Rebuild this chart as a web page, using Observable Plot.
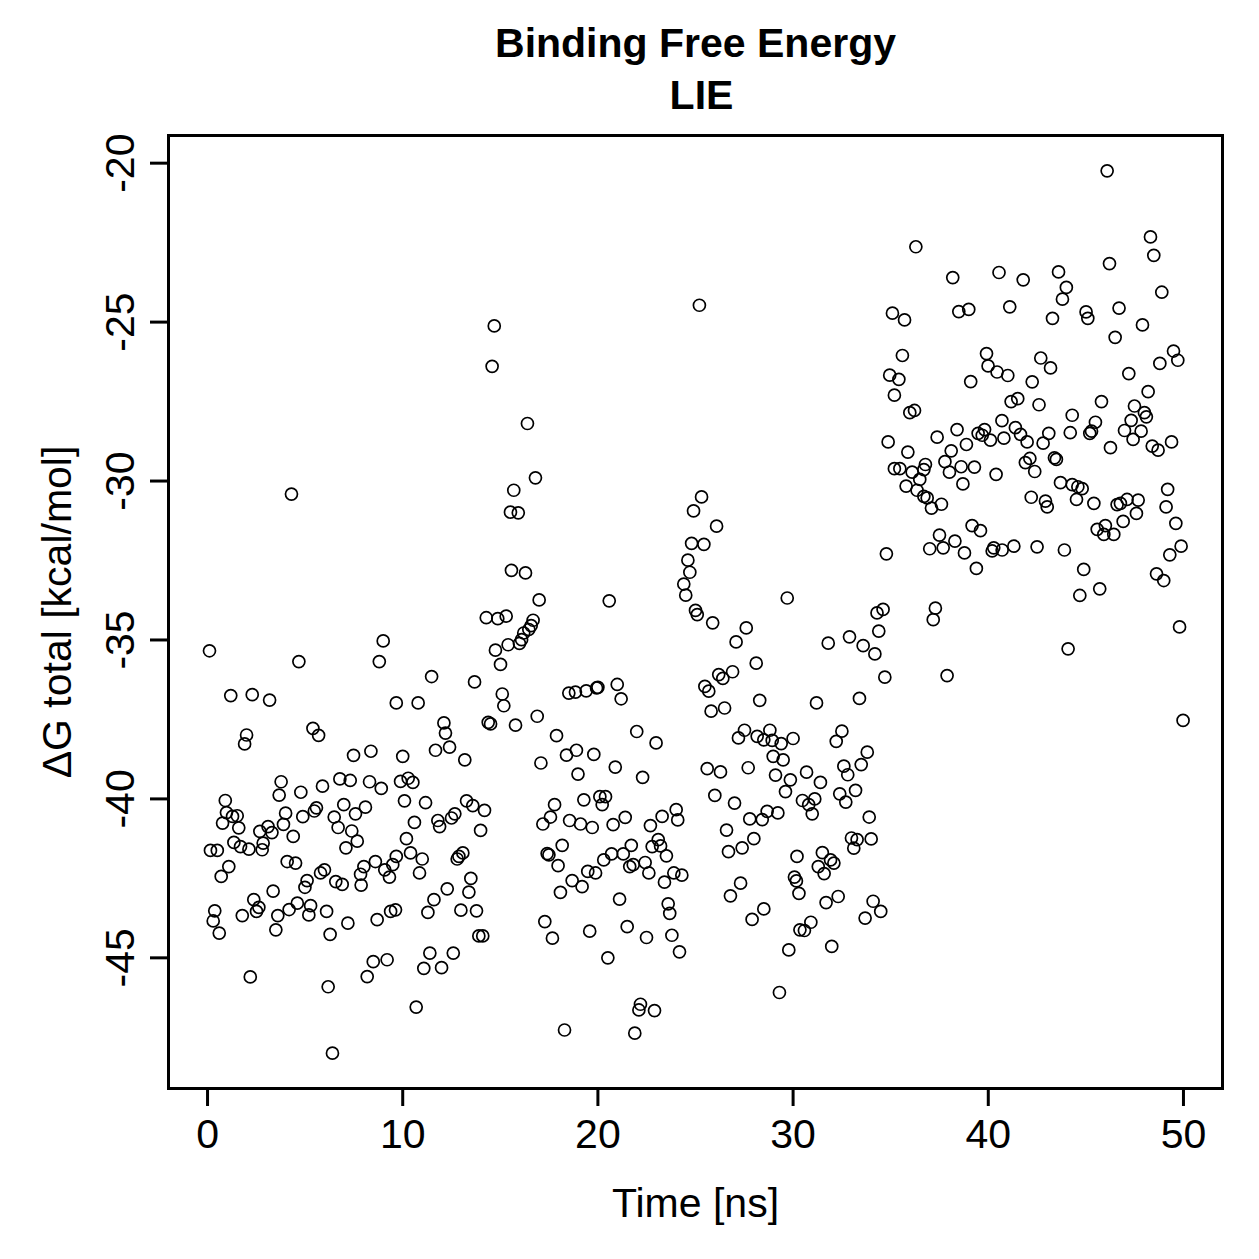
<!DOCTYPE html>
<html>
<head>
<meta charset="utf-8">
<script src="https://cdn.jsdelivr.net/npm/d3@7"></script>
<script src="https://cdn.jsdelivr.net/npm/@observablehq/plot@0.6"></script>
<style>
  html, body { margin: 0; padding: 0; background: #fff; }
  #chart svg { display: block; }
</style>
</head>
<body>
<div id="chart"></div>
<script>
// LIE binding free energy along the trajectory, one value per snapshot.
const timeNs = [
  4.30, 0.10, 4.68, 9.00, 8.80, 1.19, 2.29, 3.18, 9.67, 2.00,
  1.90, 5.40, 5.69, 7.48, 8.37, 10.00, 3.77, 3.67, 4.78, 5.89,
  6.78, 7.31, 8.30, 8.90, 9.89, 0.91, 0.97, 1.28, 1.52, 0.77,
  1.60, 2.68, 3.10, 3.30, 4.00, 3.89, 4.39, 4.88, 5.47, 5.58,
  6.98, 6.49, 6.69, 7.58, 8.09, 7.39, 7.67, 7.09, 10.09, 0.15,
  0.50, 1.35, 1.69, 2.12, 2.85, 2.80, 4.08, 4.51, 8.60, 9.67,
  1.09, 0.70, 3.36, 2.37, 2.63, 2.51, 1.78, 0.37, 0.29, 0.60,
  3.60, 3.50, 4.18, 4.60, 5.28, 5.19, 5.10, 4.99, 5.79, 5.99,
  6.57, 6.90, 6.10, 6.28, 7.19, 7.84, 8.01, 7.87, 9.08, 9.32,
  9.49, 8.69, 9.38, 9.63, 8.49, 9.20, 8.18, 2.19, 6.18, 6.40,
  14.69, 14.58, 16.39, 16.80, 15.69, 15.52, 15.92, 15.57, 16.29, 16.99,
  14.28, 14.87, 15.30, 16.68, 16.58, 16.46, 16.20, 16.09, 15.98, 15.40,
  14.75, 15.01, 11.48, 13.68, 15.10, 18.51, 18.85, 19.40, 19.93, 10.79,
  15.18, 16.89, 12.11, 12.19, 14.38, 14.50, 15.78, 17.88, 11.68, 12.40,
  13.18, 18.39, 18.90, 19.79, 17.08, 18.98, 10.28, 10.52, 11.17, 13.27,
  13.59, 14.19, 12.67, 12.50, 11.80, 11.89, 10.60, 13.99, 17.78, 17.57,
  17.18, 18.55, 19.11, 19.71, 19.28, 10.19, 10.40, 11.00, 10.86, 13.08,
  12.88, 12.79, 18.17, 17.40, 17.49, 17.96, 19.48, 19.88, 18.68, 19.19,
  18.08, 13.49, 13.39, 12.28, 11.60, 11.29, 12.98, 13.78, 13.90, 14.10,
  17.28, 17.67, 19.58, 11.39, 12.59, 11.08, 11.99, 10.69, 18.29,
  25.20, 25.31, 24.90, 26.08, 24.80, 25.43, 24.61, 24.71, 24.40, 24.50,
  20.58, 29.70, 25.00, 25.09, 25.88, 27.60, 27.08, 28.11, 26.90, 26.19,
  26.40, 25.48, 25.68, 20.00, 20.99, 21.19, 28.29, 25.80, 26.49, 21.99,
  22.98, 20.89, 22.29, 20.10, 20.39, 20.22, 20.78, 21.40, 22.69, 23.29,
  24.01, 24.09, 23.09, 22.78, 23.21, 21.71, 23.51, 20.70, 21.30, 20.30,
  21.63, 21.81, 22.42, 22.61, 23.89, 24.30, 23.41, 21.11, 23.60, 23.68,
  21.50, 22.49, 23.79, 24.18, 20.51, 22.18, 22.10, 22.90, 21.89, 25.60,
  26.28, 27.70, 27.20, 27.51, 28.16, 28.50, 28.81, 28.93, 29.39, 30.00,
  28.98, 29.49, 29.10, 29.86, 29.61, 25.99, 27.00, 27.78, 28.42, 28.67,
  29.22, 26.59, 27.99, 26.69, 27.39, 30.20, 30.07, 30.17, 30.30, 27.31,
  26.79, 28.50, 27.90, 29.78, 29.30, 30.35,
  36.29, 38.18, 40.55, 35.09, 35.71, 38.49, 39.00, 35.60, 34.95, 35.42,
  35.19, 39.91, 39.99, 40.45, 39.10, 35.98, 36.22, 34.87, 35.88, 37.38,
  38.40, 38.10, 38.88, 39.48, 39.81, 39.69, 40.11, 40.70, 40.80, 35.19,
  35.47, 36.10, 36.70, 36.78, 36.49, 35.79, 36.35, 36.70, 36.87, 37.09,
  37.60, 37.78, 38.01, 38.61, 39.29, 38.70, 40.40, 39.17, 39.60, 37.50,
  38.29, 37.00, 37.69, 38.78, 39.39, 40.28, 40.20, 34.78, 34.30, 34.61,
  37.29, 37.18, 31.80, 32.89, 33.59, 34.19, 34.39, 34.70, 37.89, 31.20,
  33.40, 32.50, 32.21, 33.80, 33.49, 32.60, 32.80, 30.69, 31.40, 32.39,
  32.70, 33.20, 30.48, 30.80, 31.11, 30.98, 33.90, 32.99, 33.28, 33.11,
  34.00, 31.50, 31.92, 32.09, 31.29, 31.59, 31.69, 32.31, 34.10, 34.49,
  33.69, 30.91, 30.58, 31.98,
  46.09, 48.31, 48.48, 46.21, 41.79, 43.60, 44.00, 43.80, 41.10, 43.29,
  45.01, 45.10, 46.70, 48.89, 47.90, 46.50, 49.49, 49.71, 48.79, 47.20,
  48.19, 42.69, 43.19, 41.00, 42.25, 41.17, 41.51, 42.60, 45.80, 47.49,
  48.00, 48.10, 47.32, 47.83, 46.98, 47.42, 44.30, 45.49, 45.29, 45.20,
  44.20, 43.10, 42.81, 41.39, 41.65, 41.99, 46.26, 48.40, 48.70, 49.39,
  41.90, 42.13, 43.39, 43.49, 42.38, 43.70, 44.30, 44.59, 44.81, 44.52,
  45.41, 42.20, 42.93, 43.02, 49.19, 49.11, 49.61, 46.60, 46.77, 47.11,
  47.68, 47.59, 46.91, 46.00, 45.58, 45.92, 46.43, 40.71, 41.31, 42.50,
  43.90, 44.89, 44.69, 45.71, 49.88, 49.30, 48.62, 48.99, 49.80, 44.09, 49.98
];

const deltaG = [
  -30.41, -35.34, -35.68, -35.03, -35.68, -36.75, -36.72, -36.89, -36.98, -37.99,
  -38.27, -37.78, -38.00, -38.63, -38.50, -38.66, -39.46, -39.88, -39.79, -39.60,
  -39.37, -39.42, -39.46, -39.67, -39.45, -40.05, -40.43, -40.55, -40.53, -40.76,
  -40.91, -41.02, -40.87, -41.06, -40.45, -40.80, -41.18, -40.56, -40.38, -40.28,
  -40.18, -40.57, -40.90, -40.47, -40.26, -41.01, -41.33, -41.54, -40.06, -41.62,
  -41.62, -41.37, -41.50, -41.58, -41.39, -41.60, -41.97, -42.02, -41.97, -41.81,
  -42.13, -42.44, -42.90, -43.17, -43.41, -43.54, -43.67, -43.52, -43.84, -44.22,
  -43.67, -44.12, -43.48, -43.28, -43.36, -43.65, -42.57, -42.78, -42.33, -42.23,
  -42.60, -42.69, -43.54, -44.26, -43.91, -42.37, -42.13, -42.71, -42.23, -42.46,
  -42.07, -43.80, -43.54, -43.49, -45.12, -45.06, -45.59, -45.60, -45.91, -48.00,
  -25.12, -26.39, -28.19, -29.90, -30.29, -30.98, -31.00, -32.81, -32.89, -33.74,
  -34.30, -34.33, -34.25, -34.38, -34.55, -34.67, -34.78, -34.99, -35.11, -35.15,
  -35.32, -35.77, -36.15, -36.32, -36.70, -36.67, -36.64, -36.60, -36.51, -36.98,
  -37.07, -37.40, -37.61, -37.93, -37.59, -37.64, -37.68, -38.01, -38.47, -38.37,
  -38.77, -38.62, -38.47, -38.60, -38.87, -39.22, -39.35, -39.48, -40.12, -40.06,
  -40.21, -40.36, -40.47, -40.60, -40.68, -40.87, -40.74, -40.99, -40.18, -40.57,
  -40.79, -40.68, -40.79, -40.90, -40.03, -41.25, -41.70, -41.89, -42.33, -41.70,
  -41.81, -41.89, -41.46, -41.72, -41.76, -42.10, -42.28, -42.33, -42.57, -42.76,
  -42.94, -42.50, -42.93, -42.83, -43.17, -43.57, -43.50, -43.52, -44.31, -44.31,
  -43.86, -44.38, -44.16, -44.85, -44.85, -45.33, -45.31, -46.55, -47.27,
  -24.47, -30.50, -30.94, -31.42, -31.96, -31.99, -32.49, -32.87, -33.24, -33.59,
  -33.77, -33.68, -34.07, -34.20, -34.46, -34.62, -35.06, -35.73, -36.00, -36.09,
  -36.21, -36.46, -36.61, -36.49, -36.40, -36.85, -36.90, -37.24, -37.14, -37.88,
  -38.24, -39.00, -39.32, -39.93, -39.93, -40.18, -40.81, -40.58, -40.84, -40.55,
  -40.34, -40.66, -41.28, -41.50, -41.48, -41.46, -41.79, -41.73, -41.73, -41.92,
  -42.13, -42.07, -42.00, -42.33, -42.33, -42.40, -42.62, -43.15, -43.30, -43.60,
  -44.02, -44.36, -44.29, -44.81, -45.00, -46.46, -46.64, -46.66, -47.37, -39.05,
  -39.15, -39.02, -38.08, -37.84, -38.03, -38.14, -37.84, -38.16, -38.26, -38.10,
  -38.66, -38.77, -39.25, -39.40, -39.77, -39.89, -40.13, -40.63, -40.65, -40.39,
  -40.44, -40.98, -41.25, -41.66, -41.54, -41.81, -42.46, -42.58, -42.97, -42.65,
  -43.05, -43.46, -43.79, -44.75, -46.09, -44.12,
  -22.63, -23.60, -23.44, -24.72, -24.93, -24.67, -24.60, -26.05, -26.67, -26.80,
  -27.30, -25.99, -26.38, -26.57, -26.87, -27.85, -27.78, -28.77, -29.09, -28.62,
  -28.38, -29.05, -28.85, -28.50, -28.38, -28.56, -28.71, -28.10, -28.65, -29.61,
  -29.61, -29.72, -29.64, -29.48, -29.95, -30.16, -30.29, -30.48, -30.53, -30.85,
  -30.73, -29.39, -29.72, -29.55, -29.56, -30.09, -29.79, -31.40, -31.56, -31.70,
  -31.89, -32.13, -32.10, -32.26, -32.75, -32.10, -32.20, -32.29, -34.15, -34.04,
  -34.00, -34.36, -35.10, -34.90, -35.18, -35.44, -34.72, -36.17, -36.12, -36.98,
  -36.84, -37.87, -38.19, -38.53, -38.92, -38.97, -39.24, -39.16, -39.48, -39.84,
  -40.10, -39.73, -40.05, -40.18, -40.00, -40.47, -40.57, -41.23, -41.28, -41.55,
  -41.26, -41.69, -41.92, -42.02, -42.13, -42.35, -43.26, -43.07, -43.22, -43.54,
  -43.75, -43.88, -44.14, -44.64,
  -20.24, -22.32, -22.90, -23.16, -23.67, -23.42, -23.91, -24.28, -24.52, -24.88,
  -24.68, -24.88, -24.56, -24.06, -25.09, -25.48, -25.91, -26.20, -26.30, -26.62,
  -27.19, -26.13, -26.44, -26.68, -26.88, -27.50, -27.41, -27.60, -27.50, -27.64,
  -27.85, -27.98, -28.09, -28.43, -28.41, -28.69, -27.93, -28.15, -28.43, -28.50,
  -28.48, -28.50, -28.81, -28.32, -28.53, -28.77, -28.95, -28.90, -29.03, -28.77,
  -29.42, -29.29, -29.27, -29.32, -29.70, -30.05, -30.11, -30.18, -30.24, -30.58,
  -30.70, -30.51, -30.63, -30.81, -30.26, -30.81, -31.33, -30.74, -30.70, -30.58,
  -30.60, -31.02, -31.27, -31.40, -31.52, -31.68, -31.68, -32.17, -32.05, -32.07,
  -32.17, -32.78, -33.60, -33.39, -32.05, -32.32, -32.92, -33.13, -34.59, -35.28, -37.53
];

const timeSpan = [0, 50];               // simulated time window, ns
const xTicks = [0, 10, 20, 30, 40, 50];
const yTicks = [-45, -40, -35, -30, -25, -20];
const titleLines = ["Binding Free Energy", "LIE"];
const xLabel = "Time [ns]";
const yLabel = "\u0394G total [kcal/mol]";

const points = timeNs.map((t, i) => ({t, g: deltaG[i]}));

// base-graphics style range: data extent widened by 4% on each side
const widen = ([lo, hi]) => {
  const d = (hi - lo) * 0.04;
  return [lo - d, hi + d];
};

const font = "'Liberation Sans', Arial, Helvetica, sans-serif";
const fs = 41;
const plain = String;

const chart = Plot.plot({
  width: 1259,
  height: 1259,
  marginLeft: 168,
  marginRight: 37,
  marginTop: 135,
  marginBottom: 171,
  style: {fontFamily: font, fontSize: fs + "px", background: "#fff", color: "#000", overflow: "visible"},
  x: {domain: widen(timeSpan), label: null},
  y: {domain: widen(d3.extent(deltaG)), label: null},
  marks: [
    Plot.axisX({ticks: xTicks, tickSize: 18, tickPadding: 12, tickFormat: plain,
      strokeWidth: 3, fontSize: fs, label: null}),
    Plot.axisY({ticks: yTicks, tickSize: 18, tickPadding: 17, tickRotate: -90,
      tickFormat: plain, strokeWidth: 3, fontSize: fs, label: null}),
    Plot.dot(points, {x: "t", y: "g", r: 6, stroke: "#000", strokeWidth: 1.7, fill: "none"}),
    Plot.frame({stroke: "#000", strokeWidth: 3}),
    Plot.text([xLabel], {text: d => d, frameAnchor: "bottom", dy: 128, lineAnchor: "bottom", fontSize: fs}),
    Plot.text([yLabel], {text: d => d, frameAnchor: "left", dx: -98, rotate: -90,
      textAnchor: "middle", lineAnchor: "bottom", fontSize: fs}),
    Plot.text([titleLines[0]], {text: d => d, frameAnchor: "top", dy: -79, lineAnchor: "bottom",
      fontWeight: "bold", fontSize: fs}),
    Plot.text([titleLines[1]], {text: d => d, frameAnchor: "top", dy: -27, dx: 6, lineAnchor: "bottom",
      fontWeight: "bold", fontSize: fs})
  ]
});

document.getElementById("chart").append(chart);
</script>
</body>
</html>
